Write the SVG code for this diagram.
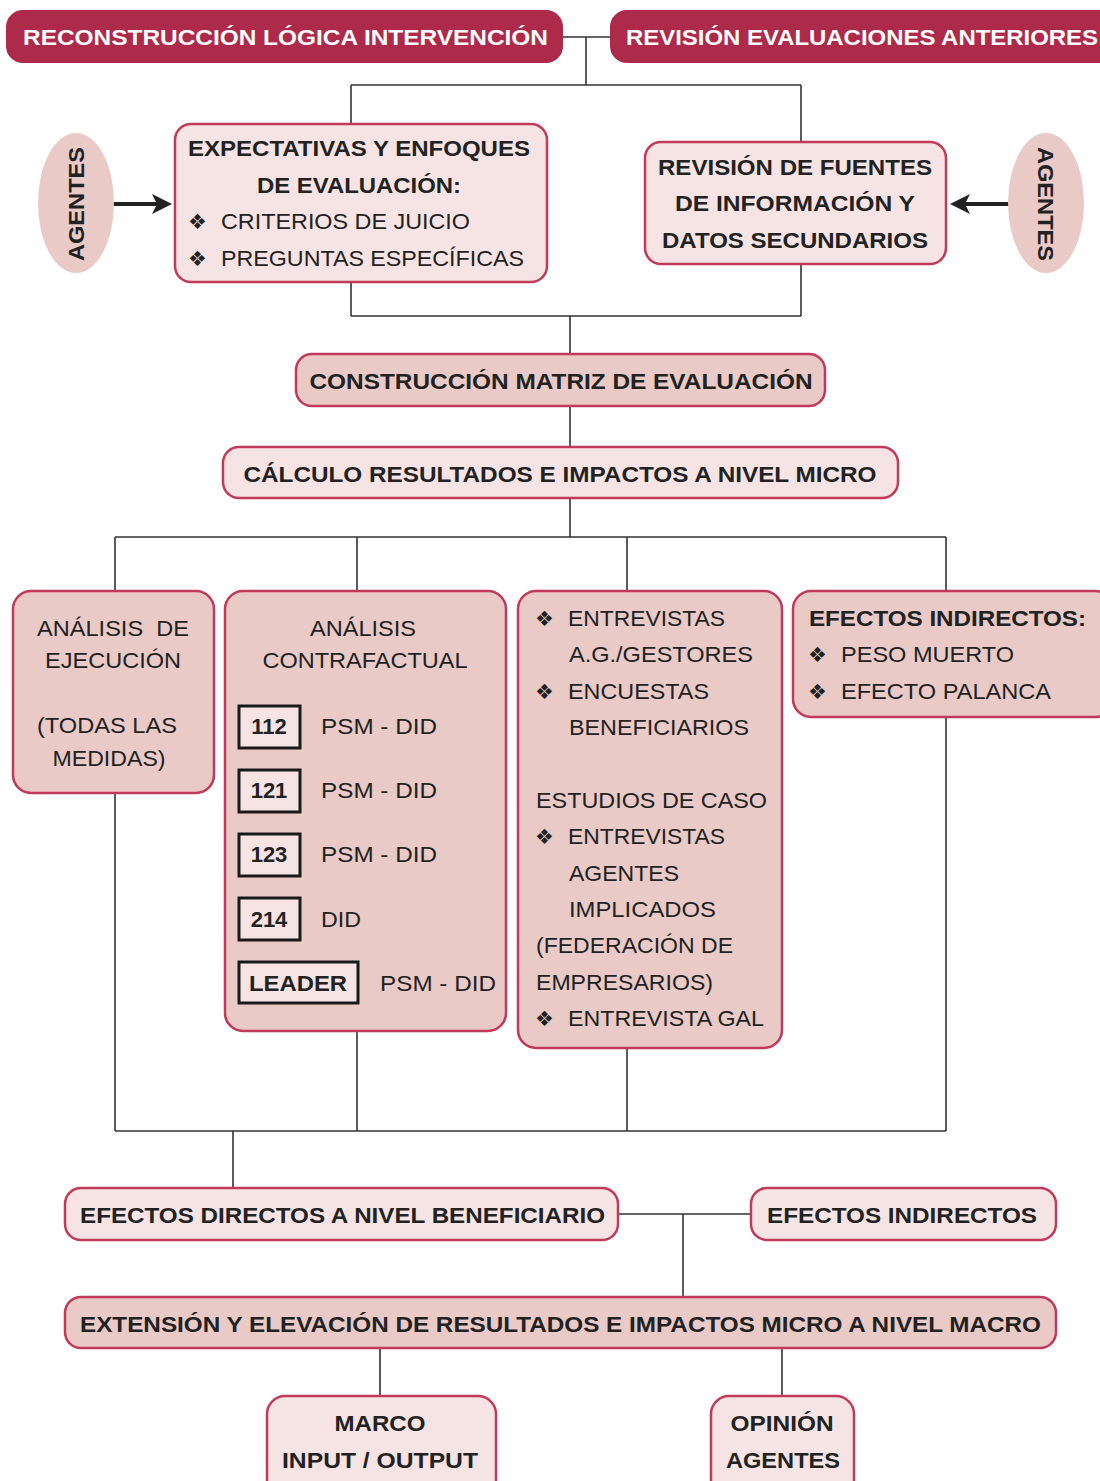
<svg xmlns="http://www.w3.org/2000/svg" width="1100" height="1481" viewBox="0 0 1100 1481">
<style>
.red{fill:#ad2a4a;stroke:#ad2a4a;stroke-width:2}
.lt{fill:#f5e4e3;stroke:#c23a5a;stroke-width:2.5}
.dk{fill:#e9cac7;stroke:#c23a5a;stroke-width:2.5}
.ov{fill:#e9cac7;stroke:none}
.sb{fill:#f5e4e3;stroke:#1a1a1a;stroke-width:3}
.t{font-family:"Liberation Sans",Arial,sans-serif;font-size:22px;fill:#222}
.b{font-weight:bold}
.w{fill:#ffffff;font-weight:bold}
.m{text-anchor:middle}
.bu{font-family:"DejaVu Sans",sans-serif;font-size:21px;fill:#222}
.ln{fill:none;stroke:#333;stroke-width:1.6}
.ar{fill:none;stroke:#222;stroke-width:4}
</style>
<defs>
<marker id="ah" viewBox="0 0 20 20" refX="8" refY="10" markerUnits="userSpaceOnUse" markerWidth="20" markerHeight="20" orient="auto">
<path d="M0,0 L20,10 L0,20 L5,10 z" fill="#222"/>
</marker>
</defs>
<rect width="1100" height="1481" fill="#ffffff"/>

<g id="connectors">
<path class="ln" d="M562,37 H611 M586,37 V85 M351,85 H801 M351,85 V124 M801,85 V142"/>
<path class="ln" d="M351,282 V316 M801,264 V316 M351,316 H801 M570,316 V354"/>
<path class="ln" d="M570,406 V447 M570,498 V537 M115,537 H946 M115,537 V591 M357,537 V591 M627,537 V591 M946,537 V591"/>
<path class="ln" d="M115,793 V1131 M357,1031 V1131 M627,1048 V1131 M946,717 V1131 M115,1131 H946 M233,1131 V1188"/>
<path class="ln" d="M618,1214 H751 M683,1214 V1297 M380,1348 V1396 M782,1348 V1396"/>
<path class="ar" d="M97,204 H160" marker-end="url(#ah)"/>
<path class="ar" d="M1023,204 H962" marker-end="url(#ah)"/>
</g>

<g id="n-reconstruccion">
<rect class="red" x="7" y="11" width="555" height="51" rx="16"/>
<text class="t w" x="23" y="45" textLength="525" lengthAdjust="spacingAndGlyphs">RECONSTRUCCIÓN LÓGICA INTERVENCIÓN</text>
</g>
<g id="n-revision-eval">
<rect class="red" x="611" y="11" width="510" height="51" rx="16"/>
<text class="t w" x="626" y="45" textLength="472" lengthAdjust="spacingAndGlyphs">REVISIÓN EVALUACIONES ANTERIORES</text>
</g>

<g id="n-agentes-izq">
<ellipse class="ov" cx="76" cy="203" rx="38" ry="70"/>
<text class="t b m" transform="translate(84,204) rotate(-90)" textLength="114" lengthAdjust="spacingAndGlyphs">AGENTES</text>
</g>
<g id="n-agentes-der">
<ellipse class="ov" cx="1046" cy="203" rx="38" ry="70"/>
<text class="t b m" transform="translate(1038,204) rotate(90)" textLength="114" lengthAdjust="spacingAndGlyphs">AGENTES</text>
</g>

<g id="n-expectativas">
<rect class="lt" x="175" y="124" width="372" height="158" rx="16"/>
<text class="t b m" x="359" y="156" textLength="342" lengthAdjust="spacingAndGlyphs">EXPECTATIVAS Y ENFOQUES</text>
<text class="t b m" x="359" y="193" textLength="204" lengthAdjust="spacingAndGlyphs">DE EVALUACIÓN:</text>
<text class="bu" x="188" y="229">❖</text>
<text class="t" x="221" y="229" textLength="249" lengthAdjust="spacingAndGlyphs">CRITERIOS DE JUICIO</text>
<text class="bu" x="188" y="266">❖</text>
<text class="t" x="221" y="266" textLength="303" lengthAdjust="spacingAndGlyphs">PREGUNTAS ESPECÍFICAS</text>
</g>

<g id="n-fuentes">
<rect class="lt" x="645" y="142" width="301" height="122" rx="16"/>
<text class="t b m" x="795" y="175" textLength="274" lengthAdjust="spacingAndGlyphs">REVISIÓN DE FUENTES</text>
<text class="t b m" x="795" y="211" textLength="240" lengthAdjust="spacingAndGlyphs">DE INFORMACIÓN Y</text>
<text class="t b m" x="795" y="248" textLength="266" lengthAdjust="spacingAndGlyphs">DATOS SECUNDARIOS</text>
</g>

<g id="n-matriz">
<rect class="dk" x="296" y="354" width="529" height="52" rx="16"/>
<text class="t b m" x="561" y="389" textLength="503" lengthAdjust="spacingAndGlyphs">CONSTRUCCIÓN MATRIZ DE EVALUACIÓN</text>
</g>

<g id="n-calculo">
<rect class="lt" x="223" y="447" width="675" height="51" rx="16"/>
<text class="t b m" x="560" y="482" textLength="633" lengthAdjust="spacingAndGlyphs">CÁLCULO RESULTADOS E IMPACTOS A NIVEL MICRO</text>
</g>

<g id="n-ejecucion">
<rect class="dk" x="13" y="591" width="201" height="202" rx="18"/>
<text class="t m" x="113" y="636" xml:space="preserve" textLength="152" lengthAdjust="spacingAndGlyphs">ANÁLISIS  DE</text>
<text class="t m" x="113" y="668" textLength="136" lengthAdjust="spacingAndGlyphs">EJECUCIÓN</text>
<text class="t m" x="107" y="733" textLength="140" lengthAdjust="spacingAndGlyphs">(TODAS LAS</text>
<text class="t m" x="109" y="766" textLength="113" lengthAdjust="spacingAndGlyphs">MEDIDAS)</text>
</g>

<g id="n-contrafactual">
<rect class="dk" x="225" y="591" width="281" height="440" rx="18"/>
<text class="t m" x="363" y="636" textLength="106" lengthAdjust="spacingAndGlyphs">ANÁLISIS</text>
<text class="t m" x="365" y="668" textLength="205" lengthAdjust="spacingAndGlyphs">CONTRAFACTUAL</text>
<rect class="sb" x="239" y="706" width="61" height="42"/>
<text class="t b m" x="269" y="734">112</text>
<text class="t" x="321" y="734" textLength="116" lengthAdjust="spacingAndGlyphs">PSM - DID</text>
<rect class="sb" x="239" y="770" width="61" height="42"/>
<text class="t b m" x="269" y="798">121</text>
<text class="t" x="321" y="798" textLength="116" lengthAdjust="spacingAndGlyphs">PSM - DID</text>
<rect class="sb" x="239" y="834" width="61" height="42"/>
<text class="t b m" x="269" y="862">123</text>
<text class="t" x="321" y="862" textLength="116" lengthAdjust="spacingAndGlyphs">PSM - DID</text>
<rect class="sb" x="239" y="898" width="61" height="42"/>
<text class="t b m" x="269" y="927">214</text>
<text class="t" x="321" y="927" textLength="40" lengthAdjust="spacingAndGlyphs">DID</text>
<rect class="sb" x="239" y="962" width="119" height="41"/>
<text class="t b m" x="298" y="991" textLength="98" lengthAdjust="spacingAndGlyphs">LEADER</text>
<text class="t" x="380" y="991" textLength="116" lengthAdjust="spacingAndGlyphs">PSM - DID</text>
</g>

<g id="n-entrevistas">
<rect class="dk" x="518" y="591" width="264" height="457" rx="18"/>
<text class="bu" x="535" y="626">❖</text>
<text class="t" x="568" y="626" textLength="157" lengthAdjust="spacingAndGlyphs">ENTREVISTAS</text>
<text class="t" x="569" y="662" textLength="184" lengthAdjust="spacingAndGlyphs">A.G./GESTORES</text>
<text class="bu" x="535" y="699">❖</text>
<text class="t" x="568" y="699" textLength="141" lengthAdjust="spacingAndGlyphs">ENCUESTAS</text>
<text class="t" x="569" y="735" textLength="180" lengthAdjust="spacingAndGlyphs">BENEFICIARIOS</text>
<text class="t" x="536" y="808" textLength="231" lengthAdjust="spacingAndGlyphs">ESTUDIOS DE CASO</text>
<text class="bu" x="535" y="844">❖</text>
<text class="t" x="568" y="844" textLength="157" lengthAdjust="spacingAndGlyphs">ENTREVISTAS</text>
<text class="t" x="569" y="881" textLength="110" lengthAdjust="spacingAndGlyphs">AGENTES</text>
<text class="t" x="569" y="917" textLength="147" lengthAdjust="spacingAndGlyphs">IMPLICADOS</text>
<text class="t" x="536" y="953" textLength="197" lengthAdjust="spacingAndGlyphs">(FEDERACIÓN DE</text>
<text class="t" x="536" y="990" textLength="177" lengthAdjust="spacingAndGlyphs">EMPRESARIOS)</text>
<text class="bu" x="535" y="1026">❖</text>
<text class="t" x="568" y="1026" textLength="196" lengthAdjust="spacingAndGlyphs">ENTREVISTA GAL</text>
</g>

<g id="n-efectos-ind-1">
<rect class="dk" x="793" y="591" width="320" height="126" rx="18"/>
<text class="t b" x="809" y="626" textLength="277" lengthAdjust="spacingAndGlyphs">EFECTOS INDIRECTOS:</text>
<text class="bu" x="808" y="662">❖</text>
<text class="t" x="841" y="662" textLength="173" lengthAdjust="spacingAndGlyphs">PESO MUERTO</text>
<text class="bu" x="808" y="699">❖</text>
<text class="t" x="841" y="699" textLength="210" lengthAdjust="spacingAndGlyphs">EFECTO PALANCA</text>
</g>

<g id="n-directos">
<rect class="lt" x="65" y="1188" width="553" height="52" rx="16"/>
<text class="t b" x="80" y="1223" textLength="525" lengthAdjust="spacingAndGlyphs">EFECTOS DIRECTOS A NIVEL BENEFICIARIO</text>
</g>
<g id="n-efectos-ind-2">
<rect class="lt" x="751" y="1188" width="305" height="52" rx="16"/>
<text class="t b" x="767" y="1223" textLength="270" lengthAdjust="spacingAndGlyphs">EFECTOS INDIRECTOS</text>
</g>

<g id="n-extension">
<rect class="dk" x="65" y="1297" width="991" height="51" rx="16"/>
<text class="t b" x="80" y="1332" textLength="961" lengthAdjust="spacingAndGlyphs">EXTENSIÓN Y ELEVACIÓN DE RESULTADOS E IMPACTOS MICRO A NIVEL MACRO</text>
</g>

<g id="n-marco">
<rect class="lt" x="267" y="1396" width="229" height="110" rx="18"/>
<text class="t b m" x="380" y="1431" textLength="91" lengthAdjust="spacingAndGlyphs">MARCO</text>
<text class="t b m" x="380" y="1468" textLength="196" lengthAdjust="spacingAndGlyphs">INPUT / OUTPUT</text>
</g>
<g id="n-opinion">
<rect class="lt" x="711" y="1396" width="143" height="110" rx="18"/>
<text class="t b m" x="782" y="1431" textLength="103" lengthAdjust="spacingAndGlyphs">OPINIÓN</text>
<text class="t b m" x="783" y="1468" textLength="114" lengthAdjust="spacingAndGlyphs">AGENTES</text>
</g>
</svg>
